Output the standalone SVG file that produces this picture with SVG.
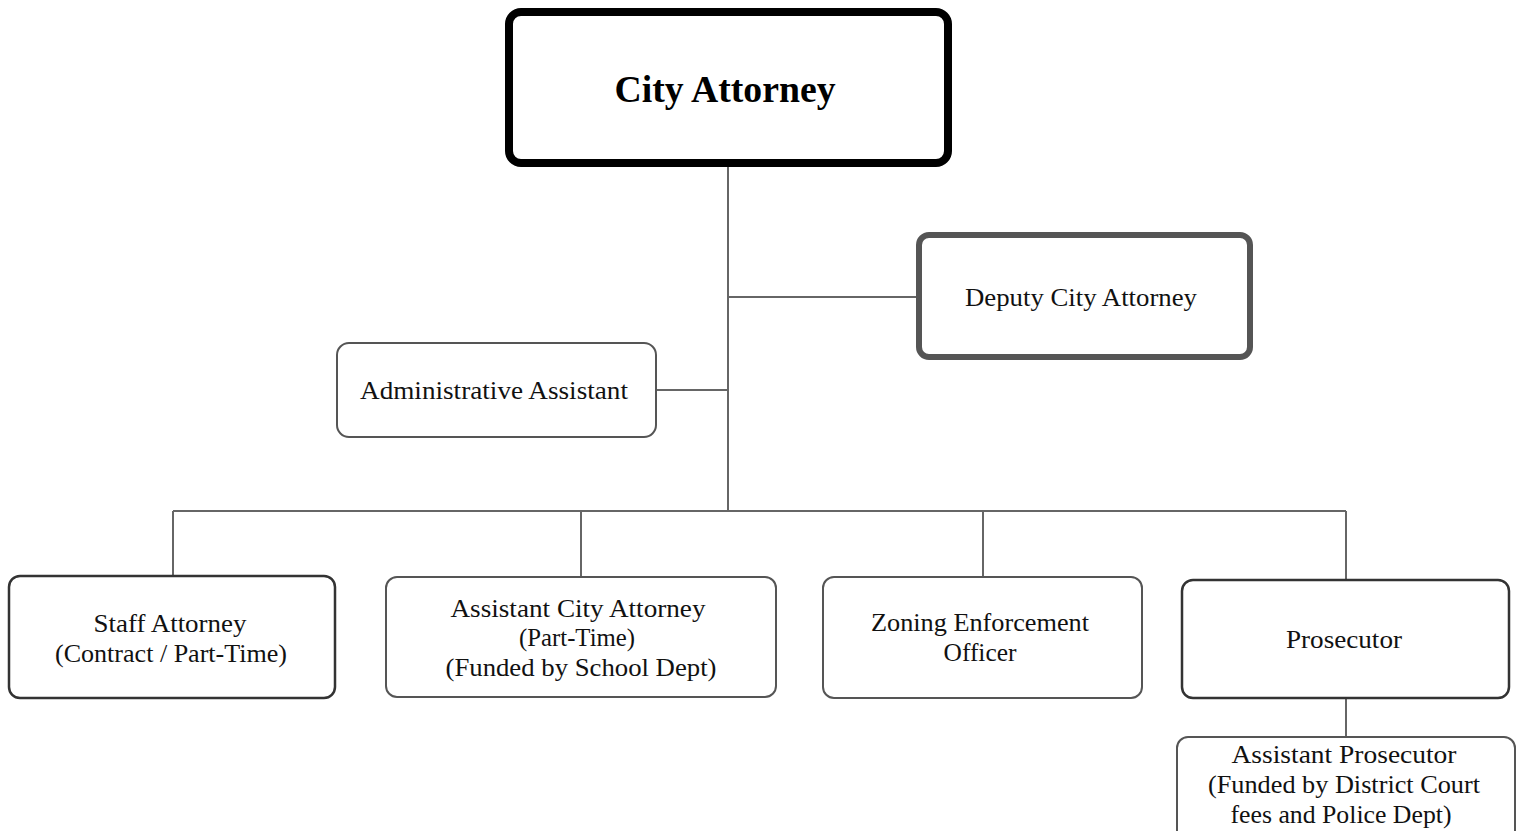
<svg xmlns="http://www.w3.org/2000/svg" width="1525" height="831" viewBox="0 0 1525 831">
  <style>
    .box { fill: #ffffff; }
    .thin { stroke: #555555; stroke-width: 2; }
    .dark { stroke: #333333; stroke-width: 2.5; }
    .lbl { font-family: "Liberation Serif", "Times New Roman", serif; font-size: 26px; fill: #111111; text-anchor: middle; }
    .conn { stroke: #666666; stroke-width: 2; fill: none; }
  </style>

  <!-- connectors -->
  <g id="connectors">
    <path class="conn" d="M728 167 V511"/>
    <path class="conn" d="M728 297 H916"/>
    <path class="conn" d="M657 390 H728"/>
    <path class="conn" d="M173 511 H1346"/>
    <path class="conn" d="M173 511 V575"/>
    <path class="conn" d="M581 511 V576"/>
    <path class="conn" d="M983 511 V576"/>
    <path class="conn" d="M1346 511 V579"/>
    <path class="conn" d="M1346 699 V736"/>
  </g>

  <!-- top: City Attorney -->
  <g id="city-attorney">
    <rect class="box" x="509" y="12" width="439" height="151" rx="12" stroke="#000000" stroke-width="8"/>
    <text x="725" y="102" font-family="Liberation Serif, Times New Roman, serif" font-size="37" font-weight="bold" text-anchor="middle" fill="#000000" textLength="221" lengthAdjust="spacingAndGlyphs">City Attorney</text>
  </g>

  <g id="deputy-city-attorney">
    <rect class="box" x="919" y="235" width="331" height="122" rx="10" stroke="#555555" stroke-width="6"/>
    <text class="lbl" x="1081" y="306" textLength="232" lengthAdjust="spacingAndGlyphs">Deputy City Attorney</text>
  </g>

  <g id="administrative-assistant">
    <rect class="box thin" x="337" y="343" width="319" height="94" rx="12"/>
    <text class="lbl" x="494" y="399" textLength="268" lengthAdjust="spacingAndGlyphs">Administrative Assistant</text>
  </g>

  <!-- bottom row -->
  <g id="staff-attorney">
    <rect class="box dark" x="9" y="576" width="326" height="122" rx="11"/>
    <text class="lbl" x="170" y="632" textLength="153" lengthAdjust="spacingAndGlyphs">Staff Attorney</text>
    <text class="lbl" x="171" y="662" textLength="232" lengthAdjust="spacingAndGlyphs">(Contract / Part-Time)</text>
  </g>

  <g id="assistant-city-attorney">
    <rect class="box thin" x="386" y="577" width="390" height="120" rx="11"/>
    <text class="lbl" x="578" y="617" textLength="255" lengthAdjust="spacingAndGlyphs">Assistant City Attorney</text>
    <text class="lbl" x="577" y="646" textLength="116" lengthAdjust="spacingAndGlyphs">(Part-Time)</text>
    <text class="lbl" x="581" y="676" textLength="271" lengthAdjust="spacingAndGlyphs">(Funded by School Dept)</text>
  </g>

  <g id="zoning-enforcement-officer">
    <rect class="box thin" x="823" y="577" width="319" height="121" rx="11"/>
    <text class="lbl" x="980" y="631" textLength="218" lengthAdjust="spacingAndGlyphs">Zoning Enforcement</text>
    <text class="lbl" x="980" y="661" textLength="73" lengthAdjust="spacingAndGlyphs">Officer</text>
  </g>

  <g id="prosecutor">
    <rect class="box dark" x="1182" y="580" width="327" height="118" rx="11"/>
    <text class="lbl" x="1344" y="648" textLength="116" lengthAdjust="spacingAndGlyphs">Prosecutor</text>
  </g>

  <g id="assistant-prosecutor">
    <rect class="box thin" x="1177" y="737" width="338" height="110" rx="11"/>
    <text class="lbl" x="1344" y="763" textLength="225" lengthAdjust="spacingAndGlyphs">Assistant Prosecutor</text>
    <text class="lbl" x="1344" y="793" textLength="272" lengthAdjust="spacingAndGlyphs">(Funded by District Court</text>
    <text class="lbl" x="1341" y="823" textLength="221" lengthAdjust="spacingAndGlyphs">fees and Police Dept)</text>
  </g>
</svg>
